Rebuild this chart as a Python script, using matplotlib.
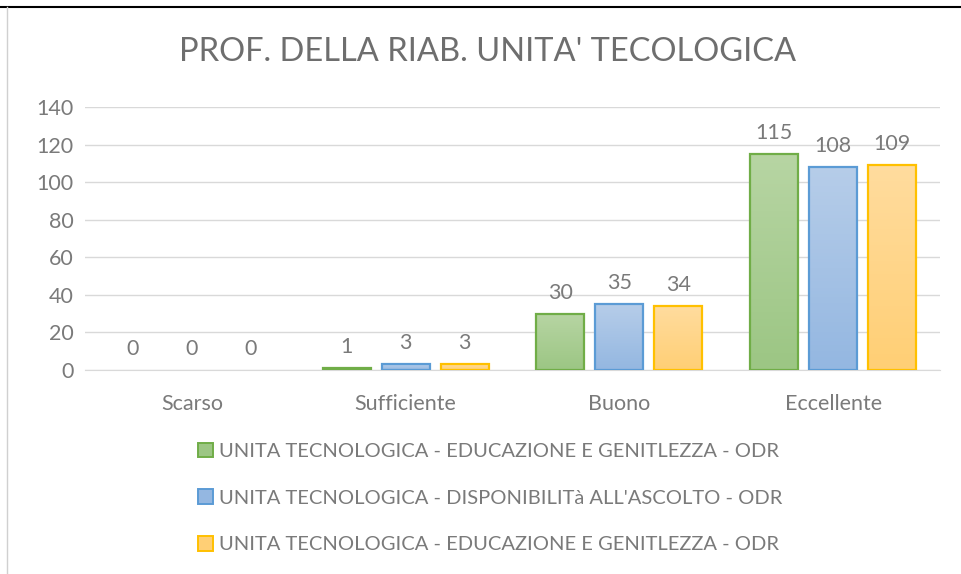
import numpy as np
import matplotlib
matplotlib.use('Agg')
import matplotlib.pyplot as plt
from matplotlib.patches import Patch
from matplotlib.lines import Line2D
from matplotlib.colors import LinearSegmentedColormap

# Data
categories = ['Scarso', 'Sufficiente', 'Buono', 'Eccellente']
series_names = [
    'UNITA TECNOLOGICA - EDUCAZIONE E GENITLEZZA - ODR',
    "UNITA TECNOLOGICA - DISPONIBILITà ALL'ASCOLTO - ODR",
    'UNITA TECNOLOGICA - EDUCAZIONE E GENITLEZZA - ODR',
]
educazione = [0, 1, 30, 115]
ascolto = [0, 3, 35, 108]
educazione_2 = [0, 3, 34, 109]
yticks = [0, 20, 40, 60, 80, 100, 120, 140]

series = [educazione, ascolto, educazione_2]
# (top colour, bottom colour, edge colour)
styles = [
    ('#b7d5a3', '#9cc684', '#70ad47'),
    ('#b6cde9', '#94b7e1', '#5b9bd5'),
    ('#ffdc9e', '#ffcf75', '#ffc000'),
]

plt.rcParams['font.family'] = ['Lato', 'DejaVu Sans']
text_grey = '#7a7a7a'

fig = plt.figure(figsize=(9.62, 5.74), dpi=100)
ax = fig.add_axes([85 / 962, 204 / 574, 855 / 962, 263 / 574])

x = np.arange(len(categories))
width = 0.225
step = 0.276
grad = np.linspace(0, 1, 64).reshape(-1, 1)

for i, (vals, (top, bottom, edge)) in enumerate(zip(series, styles)):
    offs = (i - 1) * step
    cmap = LinearSegmentedColormap.from_list('g%d' % i, [top, bottom])
    lw = [1.6 if v > 0 else 0 for v in vals]
    bars = ax.bar(x + offs, vals, width, facecolor='none', edgecolor=edge,
                  linewidth=lw, zorder=3)
    for b, v in zip(bars, vals):
        if v > 0:
            ax.imshow(grad, cmap=cmap, aspect='auto', zorder=2, origin='upper',
                      extent=[b.get_x(), b.get_x() + b.get_width(), 0, v])
        ax.annotate(str(v), (b.get_x() + b.get_width() / 2, v),
                    xytext=(0, 8), textcoords='offset points',
                    ha='center', va='bottom', fontsize=15.5, color=text_grey)

ax.set_xlim(-0.5, len(categories) - 0.5)
ax.set_ylim(0, 140)
ax.set_yticks(yticks)
ax.set_xticks(x)
ax.set_xticklabels(categories)
ax.tick_params(axis='both', length=0, labelsize=15.5, colors=text_grey)
ax.tick_params(axis='x', pad=17)
ax.tick_params(axis='y', pad=8)
ax.grid(axis='y', color='#d9d9d9', linewidth=1, zorder=0)
ax.set_axisbelow(True)
for s in ['top', 'right', 'left']:
    ax.spines[s].set_visible(False)
ax.spines['bottom'].set_color('#d9d9d9')

fig.text(488 / 962, 1 - 52 / 574, "PROF. DELLA RIAB. UNITA' TECOLOGICA",
         ha='center', va='center', fontsize=23.5, color='#6e6e6e')

handles = [Patch(facecolor=st[1], edgecolor=st[2], linewidth=1.4) for st in styles]
fig.legend(handles, series_names, loc='center', bbox_to_anchor=(490 / 962, 1 - 498 / 574),
           ncol=1, frameon=False, fontsize=14.5, labelcolor=text_grey,
           handlelength=0.75, handleheight=0.75, handletextpad=0.3, labelspacing=1.45)

# chart frame lines
fig.add_artist(Line2D([0, 1], [1 - 7 / 574, 1 - 7 / 574], color='black', linewidth=1.5))
fig.add_artist(Line2D([7 / 962, 7 / 962], [0, 1 - 7 / 574], color='#d0d0d0', linewidth=1))

fig.savefig('out.png', dpi=100)
